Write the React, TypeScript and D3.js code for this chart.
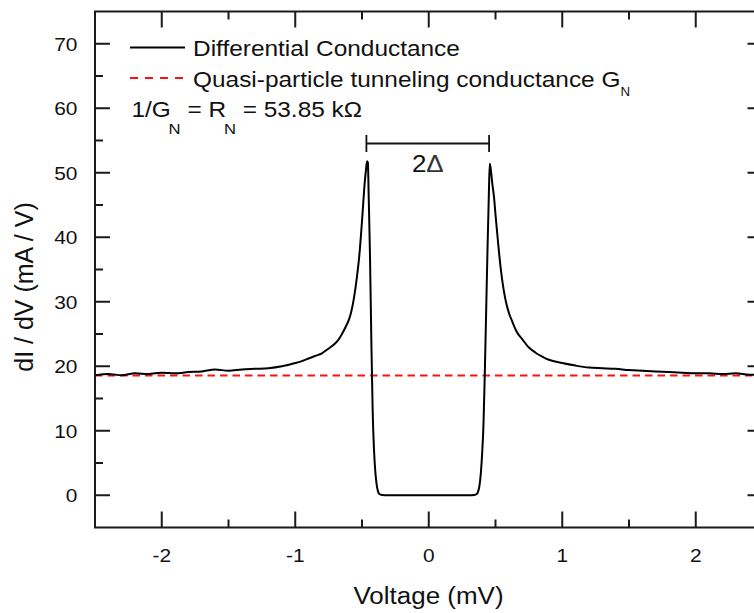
import React from "react";
import * as d3 from "d3";

const voltage = [
  -2.5, -2.4, -2.3, -2.2, -2.1, -2.0, -1.9, -1.8, -1.7, -1.6, -1.5, -1.4, -1.3, -1.2, -1.1,
  -1.0, -0.95, -0.9, -0.85, -0.8, -0.76, -0.72, -0.68, -0.65, -0.62, -0.6, -0.58, -0.56,
  -0.54, -0.52, -0.5, -0.49, -0.48, -0.47, -0.462, -0.456, -0.45, -0.44, -0.43, -0.42,
  -0.41, -0.4, -0.39, -0.38, -0.37, -0.35, -0.3, -0.2, -0.1, 0, 0.1, 0.2, 0.3, 0.34, 0.36,
  0.37, 0.38, 0.39, 0.4, 0.41, 0.42, 0.43, 0.44, 0.45, 0.457, 0.465, 0.475, 0.49, 0.5,
  0.52, 0.54, 0.56, 0.58, 0.6, 0.63, 0.66, 0.7, 0.75, 0.8, 0.85, 0.9, 1.0, 1.1, 1.2, 1.3,
  1.4, 1.5, 1.6, 1.7, 1.8, 1.9, 2.0, 2.1, 2.2, 2.3, 2.4, 2.5,
];
const conductance = [
  18.6, 18.8, 18.6, 18.9, 18.8, 19.0, 18.9, 19.1, 19.2, 19.5, 19.3, 19.5, 19.6, 19.7, 20.0,
  20.5, 20.8, 21.2, 21.6, 22.0, 22.6, 23.2, 24.0, 25.0, 26.2, 27.1, 28.5, 30.6,
  33.5, 37.2, 42.5, 45.5, 48.4, 50.5, 51.8, 51.6, 46.5, 37, 24, 13,
  7, 3.6, 1.6, 0.6, 0.2, 0.05, 0, 0, 0, 0, 0, 0, 0, 0.05, 0.2,
  0.6, 1.5, 3.4, 6.5, 11, 19, 28.5, 38, 46.5, 51.4, 50.5, 48.5, 46.0, 43.5,
  39.0, 35.0, 32.0, 29.8, 28.3, 26.7, 25.3, 24.2, 22.9, 22.1, 21.5, 21.0, 20.5, 20.1, 19.8, 19.7,
  19.6, 19.4, 19.3, 19.2, 19.1, 19.0, 18.9, 18.9, 18.8, 18.9, 18.7, 18.7,
];
const normalConductance = 18.57;
const xMajorTicks = [-2, -1, 0, 1, 2];
const xMinorTicks = [-1.5, -0.5, 0.5, 1.5];
const yMajorTicks = [0, 10, 20, 30, 40, 50, 60, 70];
const yMinorTicks = [5, 15, 25, 35, 45, 55, 65];
const gapEdges = [-0.467, 0.452];
const legendLabels = ["Differential Conductance", "Quasi-particle tunneling conductance G", "N"];

const FONT = "Liberation Sans, Arial, Helvetica, sans-serif";
const SX = 1.11;
const RED = "#ff1010";

function SText({ x, y, size, anchor = "start", sx = SX, children, fill = "#111" }: any) {
  return (
    <text
      transform={`translate(${x},${y}) scale(${sx},1)`}
      fontSize={size}
      fontFamily={FONT}
      textAnchor={anchor}
      fill={fill}
    >
      {children}
    </text>
  );
}

export default function App() {
  const W = 754, H = 613;
  const left = 95, right = 762.5, top = 11.5, bottom = 527.5;
  const x = d3.scaleLinear().domain([-2.5, 2.5]).range([left, right]);
  const y = d3.scaleLinear().domain([-5, 75]).range([bottom, top]);
  const pts = voltage.map((v, i) => [v, conductance[i]] as [number, number]);
  const line = d3
    .line<[number, number]>()
    .x((d) => x(d[0]))
    .y((d) => y(d[1]))
    .curve(d3.curveMonotoneX);

  const majH = 15, minH = 8, majV = 16, minV = 8;
  const axisStroke = "#1a1a1a";

  return (
    <svg width={W} height={H} style={{ position: "absolute", left: 0, top: 0, background: "#fff" }}>
      <rect x={0} y={0} width={W} height={H} fill="#fff" />
      <defs>
        <clipPath id="plot">
          <rect x={left} y={top} width={right - left} height={bottom - top} />
        </clipPath>
      </defs>
      <g clipPath="url(#plot)">
        <line
          x1={x(-2.5)}
          x2={x(2.5)}
          y1={y(normalConductance)}
          y2={y(normalConductance)}
          stroke={RED}
          strokeWidth={2}
          strokeDasharray="7.5,5"
        />
        <path d={line(pts) || ""} fill="none" stroke="#000" strokeWidth={2} strokeLinejoin="round" />
      </g>

      {/* frame */}
      <rect x={left} y={top} width={right - left} height={bottom - top} fill="none" stroke={axisStroke} strokeWidth={2} />

      {/* x ticks bottom & top */}
      {xMajorTicks.map((t) => (
        <g key={"xm" + t}>
          <line x1={x(t)} x2={x(t)} y1={bottom} y2={bottom - majV} stroke={axisStroke} strokeWidth={2} />
          <line x1={x(t)} x2={x(t)} y1={top} y2={top + majV} stroke={axisStroke} strokeWidth={2} />
          <SText x={x(t)} y={561.5} size={19} anchor="middle" sx={1.1}>
            {String(t)}
          </SText>
        </g>
      ))}
      {xMinorTicks.map((t) => (
        <g key={"xn" + t}>
          <line x1={x(t)} x2={x(t)} y1={bottom} y2={bottom - minV} stroke={axisStroke} strokeWidth={2} />
          <line x1={x(t)} x2={x(t)} y1={top} y2={top + minV} stroke={axisStroke} strokeWidth={2} />
        </g>
      ))}

      {/* y ticks left & right */}
      {yMajorTicks.map((t) => (
        <g key={"ym" + t}>
          <line x1={left} x2={left + majH} y1={y(t)} y2={y(t)} stroke={axisStroke} strokeWidth={2} />
          <line x1={right} x2={right - majH} y1={y(t)} y2={y(t)} stroke={axisStroke} strokeWidth={2} />
          <SText x={77.5} y={y(t) + 6.8} size={19} anchor="end" sx={1.1}>
            {t}
          </SText>
        </g>
      ))}
      {yMinorTicks.map((t) => (
        <g key={"yn" + t}>
          <line x1={left} x2={left + minH} y1={y(t)} y2={y(t)} stroke={axisStroke} strokeWidth={2} />
          <line x1={right} x2={right - minH} y1={y(t)} y2={y(t)} stroke={axisStroke} strokeWidth={2} />
        </g>
      ))}

      {/* axis titles */}
      <SText x={428.5} y={603.5} size={23} anchor="middle" sx={1.13}>
        Voltage (mV)
      </SText>
      <text
        transform={`translate(33,287) rotate(-90)`}
        fontSize={25}
        fontFamily={FONT}
        textAnchor="middle"
        fill="#111"
      >
        dI / dV (mA / V)
      </text>

      {/* legend */}
      <line x1={130} x2={185} y1={47.5} y2={47.5} stroke="#000" strokeWidth={1.8} />
      <SText x={193} y={56} size={22}>
        {legendLabels[0]}
      </SText>
      <line x1={130} x2={185} y1={78} y2={78} stroke={RED} strokeWidth={2} strokeDasharray="8,7" />
      <SText x={193} y={86.5} size={22}>
        {legendLabels[1]}
        <tspan fontSize={12} dy={9}>
          {legendLabels[2]}
        </tspan>
      </SText>
      <SText x={131.5} y={117} size={22}>
        1/G
        <tspan fontSize={15} dy={17} dx={-2}>N</tspan>
        <tspan dy={-17}> = R</tspan>
        <tspan fontSize={15} dy={17} dx={-2}>N</tspan>
        <tspan dy={-17}> = 53.85 kΩ</tspan>
      </SText>

      {/* 2Δ marker */}
      <g stroke="#111" strokeWidth={1.8}>
        <line x1={x(gapEdges[0])} x2={x(gapEdges[1])} y1={143.5} y2={143.5} />
        <line x1={x(gapEdges[0])} x2={x(gapEdges[0])} y1={135} y2={152} />
        <line x1={x(gapEdges[1])} x2={x(gapEdges[1])} y1={135} y2={152} />
      </g>
      <SText x={(x(gapEdges[0]) + x(gapEdges[1])) / 2} y={171.5} size={24} anchor="middle" sx={1.08}>
        2<tspan fontWeight={300} fill="#333">Δ</tspan>
      </SText>
    </svg>
  );
}
